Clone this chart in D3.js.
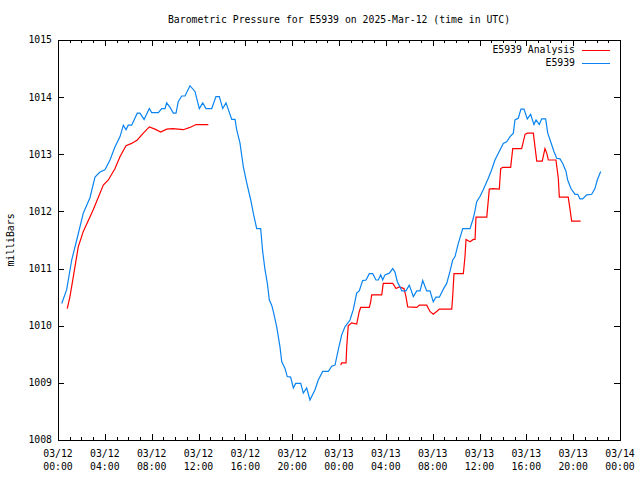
<!DOCTYPE html>
<html>
<head>
<meta charset="utf-8">
<script src="https://cdn.jsdelivr.net/npm/d3@7"></script>
<style>
  html, body { margin: 0; padding: 0; background: #fff; }
  svg { display: block; }
  text { font-family: "DejaVu Sans Mono", "Liberation Mono", monospace; font-size: 9.8px; fill: #000; }
</style>
</head>
<body>
<svg id="chart" width="640" height="480"></svg>
<script>
// ---- Data (hours since 2025-03-12 00:00 UTC, pressure in mbar) ----
const stationHours = [0.32,0.74,1.17,1.60,2.16,2.73,3.16,3.59,4.01,4.44,4.87,5.30,5.58,5.81,6.00,6.29,6.77,7.00,7.35,7.80,8.00,8.57,8.86,9.14,9.28,9.57,9.85,10.08,10.27,10.57,10.85,11.27,11.70,12.07,12.36,12.64,13.13,13.49,13.78,14.07,14.35,14.84,15.12,15.26,15.54,15.83,16.12,16.46,16.68,16.97,17.31,17.48,17.68,17.88,18.05,18.25,18.39,18.68,18.96,19.11,19.39,19.58,19.87,20.10,20.30,20.73,20.95,21.24,21.52,21.95,22.23,22.61,23.09,23.38,23.66,23.94,24.23,24.51,24.94,25.22,25.51,25.73,26.02,26.31,26.59,26.88,27.16,27.36,27.56,27.73,27.93,28.30,28.59,28.78,28.98,29.21,29.36,29.72,30.00,30.35,30.64,30.92,31.15,31.49,31.77,32.05,32.28,32.57,32.91,33.20,33.48,33.71,33.91,34.19,34.57,35.19,35.47,35.62,35.76,36.04,36.32,36.75,37.04,37.32,37.61,38.03,38.32,38.61,38.89,39.03,39.31,39.54,39.80,40.08,40.37,40.65,40.83,41.11,41.31,41.65,41.83,42.08,42.36,42.59,42.88,43.11,43.39,43.53,43.81,44.16,44.39,44.58,44.81,45.16,45.58,45.86,46.06,46.35];
const stationPressure = [1010.39,1010.63,1011.15,1011.50,1011.97,1012.24,1012.60,1012.69,1012.73,1012.90,1013.13,1013.31,1013.51,1013.43,1013.51,1013.51,1013.72,1013.72,1013.61,1013.80,1013.73,1013.73,1013.80,1013.80,1013.90,1013.82,1013.72,1013.72,1013.92,1014.02,1014.02,1014.20,1014.10,1013.80,1013.90,1013.80,1013.80,1014.01,1014.01,1013.80,1013.90,1013.61,1013.61,1013.43,1013.20,1012.78,1012.50,1012.20,1011.97,1011.70,1011.70,1011.30,1010.98,1010.74,1010.45,1010.36,1010.25,1009.98,1009.63,1009.37,1009.25,1009.11,1009.10,1008.91,1008.99,1008.99,1008.82,1008.91,1008.70,1008.88,1009.05,1009.20,1009.20,1009.29,1009.31,1009.58,1009.84,1009.98,1010.10,1010.28,1010.57,1010.61,1010.79,1010.80,1010.91,1010.91,1010.80,1010.80,1010.89,1010.80,1010.89,1010.92,1011.00,1010.94,1010.77,1010.68,1010.61,1010.61,1010.71,1010.51,1010.61,1010.61,1010.79,1010.61,1010.61,1010.42,1010.50,1010.50,1010.64,1010.74,1010.95,1011.15,1011.21,1011.44,1011.70,1011.70,1011.88,1012.02,1012.17,1012.26,1012.38,1012.58,1012.73,1012.90,1013.02,1013.19,1013.22,1013.31,1013.37,1013.60,1013.63,1013.79,1013.79,1013.62,1013.70,1013.52,1013.60,1013.52,1013.62,1013.62,1013.37,1013.22,1013.05,1012.93,1012.92,1012.84,1012.70,1012.55,1012.40,1012.30,1012.30,1012.22,1012.22,1012.29,1012.30,1012.40,1012.55,1012.70];

const analysisHours = [0.79,1.02,1.31,1.73,2.16,3.01,3.87,4.30,4.87,5.30,5.81,6.29,6.77,7.29,7.80,8.28,8.77,9.28,9.80,10.27,10.70,11.27,11.79,12.84,
  18.0,
  24.15,24.23,24.60,24.66,24.79,25.08,25.51,25.73,25.85,26.59,26.71,26.79,27.65,27.78,28.59,28.87,29.15,29.55,29.72,29.87,30.64,30.86,31.49,31.77,32.05,32.34,32.57,33.63,33.71,33.82,34.62,34.76,34.85,35.19,35.47,35.62,35.70,36.62,36.84,37.18,37.69,37.81,37.98,38.66,38.84,39.60,39.89,40.08,40.60,40.74,40.89,41.36,41.59,41.74,41.88,42.53,42.73,42.82,43.58,43.73,43.87,44.64];
const analysisPressure = [1010.30,1010.51,1010.86,1011.38,1011.65,1012.03,1012.46,1012.55,1012.75,1012.96,1013.15,1013.19,1013.25,1013.37,1013.48,1013.44,1013.39,1013.44,1013.45,1013.44,1013.43,1013.47,1013.52,1013.52,
  null,
  1009.31,1009.35,1009.35,1009.63,1010.00,1010.05,1010.03,1010.25,1010.32,1010.32,1010.42,1010.54,1010.54,1010.74,1010.74,1010.65,1010.68,1010.65,1010.51,1010.33,1010.32,1010.36,1010.36,1010.25,1010.20,1010.25,1010.29,1010.29,1010.51,1010.91,1010.91,1011.21,1011.51,1011.47,1011.51,1011.51,1011.90,1011.90,1012.39,1012.40,1012.39,1012.75,1012.77,1012.77,1013.10,1013.10,1013.35,1013.37,1013.37,1013.13,1012.88,1012.88,1013.10,1013.02,1012.90,1012.90,1012.58,1012.25,1012.25,1012.04,1011.83,1011.83];

const yTicks = [1008,1009,1010,1011,1012,1013,1014,1015];
const xTickHours = [0,4,8,12,16,20,24,28,32,36,40,44,48];
const xTickDates = ["03/12","03/12","03/12","03/12","03/12","03/12","03/13","03/13","03/13","03/13","03/13","03/13","03/14"];
const xTickTimes = ["00:00","04:00","08:00","12:00","16:00","20:00","00:00","04:00","08:00","12:00","16:00","20:00","00:00"];
const seriesNames = ["E5939 Analysis","E5939"];
const seriesColors = ["#ff0000","#0a84f0"];
const titleText = "Barometric Pressure for E5939 on 2025-Mar-12 (time in UTC)";
const yLabel = "milliBars";

// ---- Layout ----
const L = 58, R = 620, T = 40, B = 440;
const svg = d3.select("#chart");
const x = d3.scaleLinear().domain([0,48]).range([L,R]);
const y = d3.scaleLinear().domain([1008,1015]).range([B,T]);

// Ticks (inward, on all four sides)
const tickG = svg.append("g").attr("stroke","#000").attr("stroke-width",1).attr("shape-rendering","crispEdges");
const minorHours = d3.range(0,49,1);
minorHours.forEach(h => {
  const len = (h % 4 === 0) ? 6 : 3;
  tickG.append("line").attr("x1",x(h)+0.5).attr("x2",x(h)+0.5).attr("y1",B).attr("y2",B-len);
  tickG.append("line").attr("x1",x(h)+0.5).attr("x2",x(h)+0.5).attr("y1",T).attr("y2",T+len);
});
yTicks.forEach(v => {
  tickG.append("line").attr("x1",L).attr("x2",L+6).attr("y1",y(v)+0.5).attr("y2",y(v)+0.5);
  tickG.append("line").attr("x1",R).attr("x2",R-6).attr("y1",y(v)+0.5).attr("y2",y(v)+0.5);
});

// Border
svg.append("rect").attr("x",L+0.5).attr("y",T+0.5).attr("width",R-L).attr("height",B-T)
  .attr("fill","none").attr("stroke","#000").attr("shape-rendering","crispEdges");

// Y tick labels
svg.append("g").selectAll("text").data(yTicks).join("text")
  .attr("x",L-6).attr("y",d => y(d)).attr("dy","0.35em").attr("text-anchor","end").text(d => d);

// X tick labels
const xl = svg.append("g");
xTickHours.forEach((h,i) => {
  xl.append("text").attr("x",x(h)).attr("y",457).attr("text-anchor","middle").text(xTickDates[i]);
  xl.append("text").attr("x",x(h)).attr("y",470).attr("text-anchor","middle").text(xTickTimes[i]);
});

// Title
svg.append("text").attr("x",(L+R)/2).attr("y",23).attr("text-anchor","middle").text(titleText);

// Y label
svg.append("text").attr("transform","translate(14,240) rotate(-90)").attr("text-anchor","middle").text(yLabel);

// Lines
const line = d3.line().defined(d => d[1] !== null).x(d => x(d[0])).y(d => y(d[1]));
const analysisData = analysisHours.map((h,i) => [h, analysisPressure[i]]);
const stationData = stationHours.map((h,i) => [h, stationPressure[i]]);

svg.append("path").datum(analysisData).attr("d",line).attr("fill","none")
  .attr("stroke",seriesColors[0]).attr("stroke-width",1.2);
svg.append("path").datum(stationData).attr("d",line).attr("fill","none")
  .attr("stroke",seriesColors[1]).attr("stroke-width",1.2);

// Legend
const legY = [50,63];
seriesNames.forEach((n,i) => {
  svg.append("text").attr("x",575).attr("y",legY[i]).attr("dy","0.35em").attr("text-anchor","end").text(n);
  svg.append("line").attr("x1",582).attr("x2",610).attr("y1",legY[i]+0.5).attr("y2",legY[i]+0.5)
    .attr("stroke",seriesColors[i]).attr("stroke-width",1).attr("shape-rendering","crispEdges");
});
</script>
</body>
</html>
